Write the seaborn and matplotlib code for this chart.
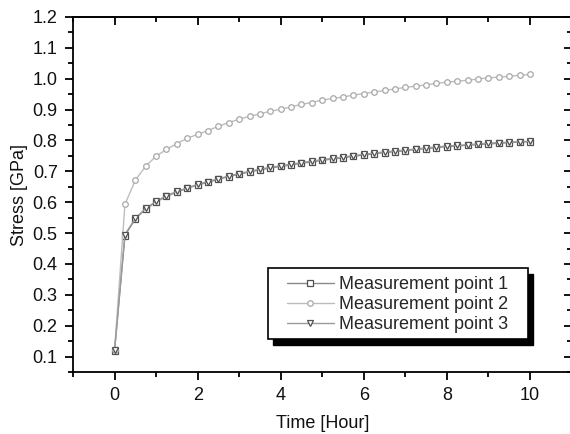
import matplotlib
matplotlib.use("Agg")
import matplotlib.pyplot as plt
import seaborn as sns
import pandas as pd
from matplotlib.ticker import MultipleLocator
from matplotlib.patches import Rectangle

time_hours = [0.0, 0.25, 0.5, 0.75, 1.0, 1.25, 1.5, 1.75, 2.0, 2.25, 2.5, 2.75,
              3.0, 3.25, 3.5, 3.75, 4.0, 4.25, 4.5, 4.75, 5.0, 5.25, 5.5, 5.75,
              6.0, 6.25, 6.5, 6.75, 7.0, 7.25, 7.5, 7.75, 8.0, 8.25, 8.5, 8.75,
              9.0, 9.25, 9.5, 9.75, 10.0]

point1 = [0.118, 0.492, 0.546, 0.578, 0.601, 0.619, 0.633, 0.645, 0.656, 0.665,
          0.674, 0.683, 0.691, 0.698, 0.705, 0.711, 0.716, 0.721, 0.726, 0.731,
          0.736, 0.740, 0.744, 0.749, 0.753, 0.757, 0.761, 0.764, 0.767, 0.771,
          0.774, 0.777, 0.780, 0.782, 0.785, 0.787, 0.789, 0.791, 0.793, 0.795,
          0.796]
point2 = [0.120, 0.593, 0.671, 0.717, 0.749, 0.771, 0.790, 0.807, 0.820, 0.832,
          0.846, 0.858, 0.869, 0.878, 0.886, 0.895, 0.901, 0.909, 0.917, 0.923,
          0.931, 0.936, 0.941, 0.947, 0.952, 0.957, 0.962, 0.967, 0.972, 0.976,
          0.980, 0.985, 0.989, 0.992, 0.995, 0.999, 1.003, 1.005, 1.008, 1.011,
          1.014]
point3 = [0.120, 0.495, 0.548, 0.580, 0.603, 0.621, 0.635, 0.646, 0.658, 0.667,
          0.676, 0.685, 0.693, 0.700, 0.707, 0.713, 0.718, 0.723, 0.728, 0.733,
          0.738, 0.742, 0.746, 0.751, 0.755, 0.759, 0.763, 0.766, 0.769, 0.772,
          0.776, 0.779, 0.782, 0.784, 0.786, 0.789, 0.791, 0.793, 0.794, 0.796,
          0.797]

series_names = ["Measurement point 1", "Measurement point 2", "Measurement point 3"]
series_values = [point1, point2, point3]

sns.set_theme(style="white")
plt.rcParams["font.family"] = ["Liberation Sans", "DejaVu Sans"]

fig = plt.figure(figsize=(5.7, 4.34), dpi=100)
W, H = 570, 434
ax = fig.add_axes([73 / W, (H - 372) / H, (571.5 - 73) / W, (372 - 17) / H])

styles = [
    dict(color="#8a8a8a", marker="s", mec="#505050"),
    dict(color="#bdbdbd", marker="o", mec="#a8a8a8"),
    dict(color="#9a9a9a", marker="v", mec="#505050"),
]
for name, vals, st in zip(series_names, series_values, styles):
    df = pd.DataFrame({"t": time_hours, "s": vals})
    sns.lineplot(data=df, x="t", y="s", ax=ax, color=st["color"], marker=st["marker"],
                 markersize=4.0, markeredgecolor=st["mec"], markerfacecolor="white",
                 markeredgewidth=0.9, linewidth=1.0, label=name, legend=False)

ax.set_xlim(-1, 11)
ax.set_ylim(0.05, 1.2)
ax.xaxis.set_major_locator(MultipleLocator(2))
ax.xaxis.set_minor_locator(MultipleLocator(1))
ax.yaxis.set_major_locator(MultipleLocator(0.1))
ax.yaxis.set_minor_locator(MultipleLocator(0.05))
ax.yaxis.set_major_formatter(matplotlib.ticker.FormatStrFormatter("%.1f"))

for sp in ax.spines.values():
    sp.set_color("black")
    sp.set_linewidth(1.3)

ax.tick_params(which="both", direction="out", color="black", width=1.3,
               bottom=True, left=True, top=False, right=False,
               labelsize=13, labelcolor="#111111")
ax.tick_params(which="major", length=6, pad=5)
ax.tick_params(which="minor", length=3.5)

secx = ax.secondary_xaxis("top")
secx.xaxis.set_major_locator(MultipleLocator(2))
secx.xaxis.set_minor_locator(MultipleLocator(1))
secx.tick_params(which="both", direction="in", width=1.3, color="black", labeltop=False)
secx.tick_params(which="major", length=6)
secx.tick_params(which="minor", length=3.5)
secx.spines["top"].set_linewidth(1.3)

secy = ax.secondary_yaxis("right")
secy.yaxis.set_major_locator(MultipleLocator(0.1))
secy.yaxis.set_minor_locator(MultipleLocator(0.05))
secy.tick_params(which="both", direction="in", width=1.3, color="black", labelright=False)
secy.tick_params(which="major", length=6)
secy.tick_params(which="minor", length=3.5)

ax.set_xlabel("Time [Hour]", fontsize=13, color="#111111", labelpad=7.5)
ax.set_ylabel("Stress [GPa]", fontsize=13, color="#111111", labelpad=3.5)

# Legend frame with solid shadow
fx, fy, fw, fh = 268 / W, (H - 339) / H, 260 / W, 71 / H
shadow = Rectangle((fx + 5 / W, fy - 6 / H), fw, fh, transform=fig.transFigure,
                   facecolor="black", edgecolor="black", zorder=4.8, clip_on=False)
frame = Rectangle((fx, fy), fw, fh, transform=fig.transFigure,
                  facecolor="white", edgecolor="black", linewidth=1.2, zorder=4.9, clip_on=False)
ax.add_patch(shadow)
ax.add_patch(frame)

leg = ax.legend(loc="upper left", bbox_to_anchor=(287 / W, 1 - 276 / H),
                bbox_transform=fig.transFigure, frameon=False, fontsize=13,
                borderpad=0, borderaxespad=0, handlelength=2.6, handletextpad=0.3,
                labelspacing=0.17)
leg.set_zorder(5)

fig.savefig("out.png", dpi=100)
